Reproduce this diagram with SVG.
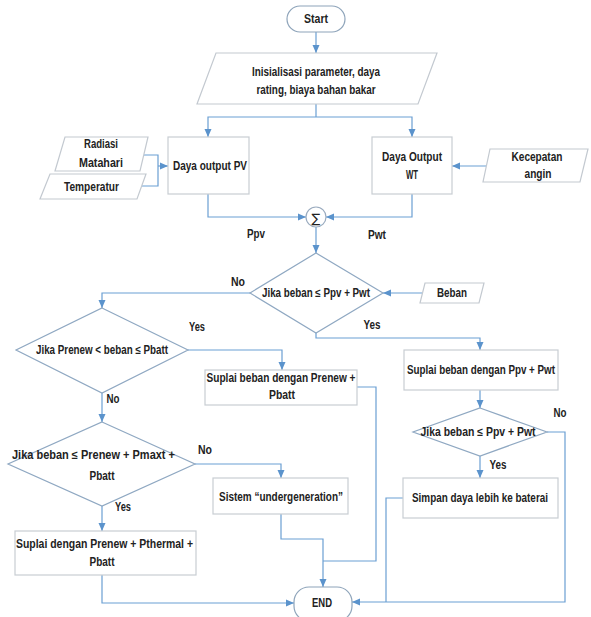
<svg xmlns="http://www.w3.org/2000/svg" width="591" height="617" viewBox="0 0 591 617">
<style>
text{font-family:"Liberation Sans",Arial,sans-serif;font-size:12px;font-weight:bold;fill:#222;text-anchor:middle;dominant-baseline:central}
.box{fill:#fff;stroke:#c8cdd3;stroke-width:1.2}
.dia{fill:#fff;stroke:#8fa8c2;stroke-width:1.2}
.para{fill:#fff;stroke:#c3c9d0;stroke-width:1.2}
.term{fill:#fff;stroke:#8ea4ba;stroke-width:1.2}
.c{fill:none;stroke:#6b9fd3;stroke-width:1.2}
.ca{fill:none;stroke:#6b9fd3;stroke-width:1.2;marker-end:url(#ah)}
</style>
<defs>
<marker id="ah" markerUnits="userSpaceOnUse" markerWidth="8" markerHeight="8" viewBox="0 0 8 8" refX="8" refY="4" orient="auto">
<path d="M0,0.5 L8,4 L0,7.5 Z" fill="#5b93cc"/>
</marker>
</defs>
<rect width="591" height="617" fill="#fff"/>

<g id="connectors">
<path class="ca" d="M316 32 V53"/>
<path class="c" d="M316 104 V117"/>
<path class="ca" d="M316 117 H208 V137"/>
<path class="ca" d="M316 117 H412 V137"/>
<path class="c" d="M144 155 H158 V186 H142"/>
<path class="ca" d="M158 166 H168"/>
<path class="ca" d="M486 166 H452"/>
<path class="ca" d="M208 194 V217 H306"/>
<path class="ca" d="M412 194 V217 H326"/>
<path class="ca" d="M316 227 V253"/>
<path class="ca" d="M422 293 H383"/>
<path class="ca" d="M250 293 H102 V308"/>
<path class="ca" d="M316 333 V338 H480 V350"/>
<path class="ca" d="M188 350 H282 V370"/>
<path class="ca" d="M102 393 V422"/>
<path class="ca" d="M195 464 H281 V478"/>
<path class="ca" d="M102 506 V531"/>
<path class="ca" d="M102 575 V603 H294"/>
<path class="ca" d="M281 514 V539 H323 V587"/>
<path class="c" d="M357 387 H376 V561 H323"/>
<path class="ca" d="M480 390 V408"/>
<path class="ca" d="M480 456 V478"/>
<path class="ca" d="M547 432 H565 V602 H352"/>
<path class="c" d="M403 498 H386 V602"/>
</g>

<g id="labels">
<text x="256" y="234" textLength="18" lengthAdjust="spacingAndGlyphs">Ppv</text>
<text x="377" y="235" textLength="18" lengthAdjust="spacingAndGlyphs">Pwt</text>
<text x="238" y="282" textLength="14" lengthAdjust="spacingAndGlyphs">No</text>
<text x="372" y="325" textLength="17" lengthAdjust="spacingAndGlyphs">Yes</text>
<text x="197" y="327" textLength="16" lengthAdjust="spacingAndGlyphs">Yes</text>
<text x="113" y="399" textLength="13" lengthAdjust="spacingAndGlyphs">No</text>
<text x="205" y="450" textLength="14" lengthAdjust="spacingAndGlyphs">No</text>
<text x="123" y="507" textLength="16" lengthAdjust="spacingAndGlyphs">Yes</text>
<text x="560" y="413" textLength="13" lengthAdjust="spacingAndGlyphs">No</text>
<text x="498" y="465" textLength="17" lengthAdjust="spacingAndGlyphs">Yes</text>
</g>

<g id="start">
<rect class="term" x="287" y="6" width="58" height="26" rx="13"/>
<text x="316" y="19" textLength="24" lengthAdjust="spacingAndGlyphs">Start</text>
</g>

<g id="init">
<polygon class="para" points="216,53 437,53 418,104 197,104"/>
<text x="316" y="72" textLength="128" lengthAdjust="spacingAndGlyphs">Inisialisasi parameter, daya</text>
<text x="316" y="90" textLength="119" lengthAdjust="spacingAndGlyphs">rating, biaya bahan bakar</text>
</g>

<g id="radiasi">
<polygon class="para" points="65,137 148,137 140,171 55,171"/>
<text x="101" y="144" textLength="34" lengthAdjust="spacingAndGlyphs">Radiasi</text>
<text x="101" y="163" textLength="44" lengthAdjust="spacingAndGlyphs">Matahari</text>
</g>

<g id="temperatur">
<polygon class="para" points="50,174 146,174 137,199 40,199"/>
<text x="91.5" y="187" textLength="55" lengthAdjust="spacingAndGlyphs">Temperatur</text>
</g>

<g id="pv">
<rect class="box" x="168" y="137" width="81" height="57"/>
<text x="210" y="166" textLength="74" lengthAdjust="spacingAndGlyphs">Daya output PV</text>
</g>

<g id="wt">
<rect class="box" x="372" y="137" width="80" height="57"/>
<text x="412" y="157" textLength="60" lengthAdjust="spacingAndGlyphs">Daya Output</text>
<text x="412" y="175" textLength="12" lengthAdjust="spacingAndGlyphs">WT</text>
</g>

<g id="angin">
<polygon class="para" points="490,149 588,149 580,182 483,182"/>
<text x="537" y="157" textLength="51" lengthAdjust="spacingAndGlyphs">Kecepatan</text>
<text x="538" y="174" textLength="27" lengthAdjust="spacingAndGlyphs">angin</text>
</g>

<g id="sum">
<circle cx="316" cy="217" r="10" fill="#fff" stroke="#9aabbf" stroke-width="1.2"/>
<text x="316" y="218" style="font-family:'DejaVu Sans',sans-serif;font-weight:normal;font-size:13px">∑</text>
</g>

<g id="cek1">
<polygon class="dia" points="316,253 383,293 316,333 250,293"/>
<text x="316" y="293" textLength="108" lengthAdjust="spacingAndGlyphs">Jika beban ≤ Ppv + Pwt</text>
</g>

<g id="beban">
<polygon class="para" points="425,283 484,283 479,303 420,303"/>
<text x="452" y="293" textLength="30" lengthAdjust="spacingAndGlyphs">Beban</text>
</g>

<g id="cek2">
<polygon class="dia" points="102,308 188,350 102,393 16,350"/>
<text x="102" y="350" textLength="132" lengthAdjust="spacingAndGlyphs">Jika Prenew &lt; beban ≤ Pbatt</text>
</g>

<g id="suplai-prenew">
<rect class="box" x="205" y="370" width="152" height="35"/>
<text x="281" y="378" textLength="149" lengthAdjust="spacingAndGlyphs">Suplai beban dengan Prenew +</text>
<text x="282" y="395" textLength="26" lengthAdjust="spacingAndGlyphs">Pbatt</text>
</g>

<g id="suplai-ppv">
<rect class="box" x="404" y="350" width="154" height="40"/>
<text x="481" y="370" textLength="148" lengthAdjust="spacingAndGlyphs">Suplai beban dengan Ppv + Pwt</text>
</g>

<g id="cek3">
<polygon class="dia" points="102,422 195,464 102,506 8,464"/>
<text x="93.5" y="455" textLength="163" lengthAdjust="spacingAndGlyphs">Jika beban ≤ Prenew + Pmaxt +</text>
<text x="102" y="476" textLength="25" lengthAdjust="spacingAndGlyphs">Pbatt</text>
</g>

<g id="sistem">
<rect class="box" x="213" y="478" width="135" height="36"/>
<text x="281" y="497" textLength="124" lengthAdjust="spacingAndGlyphs">Sistem “undergeneration”</text>
</g>

<g id="cek4">
<polygon class="dia" points="480,408 547,432 480,456 413,432"/>
<text x="478" y="432" textLength="115" lengthAdjust="spacingAndGlyphs">Jika beban ≤ Ppv + Pwt</text>
</g>

<g id="simpan">
<rect class="box" x="403" y="478" width="155" height="40"/>
<text x="480" y="498" textLength="136" lengthAdjust="spacingAndGlyphs">Simpan daya lebih ke baterai</text>
</g>

<g id="suplai-thermal">
<rect class="box" x="15" y="531" width="181" height="44"/>
<text x="104.5" y="544" textLength="177" lengthAdjust="spacingAndGlyphs">Suplai dengan Prenew + Pthermal +</text>
<text x="102" y="562" textLength="25" lengthAdjust="spacingAndGlyphs">Pbatt</text>
</g>

<g id="end">
<rect class="term" x="294" y="587" width="58" height="34" rx="15"/>
<text x="322" y="603" textLength="20" lengthAdjust="spacingAndGlyphs">END</text>
</g>
</svg>
